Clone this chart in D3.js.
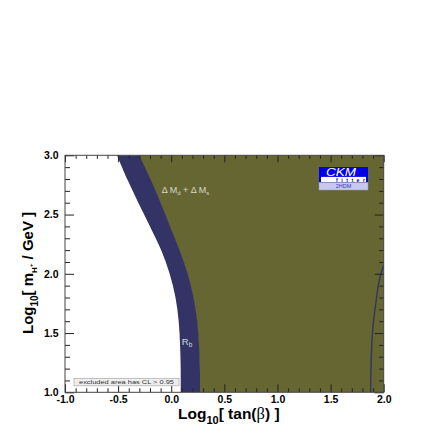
<!DOCTYPE html>
<html>
<head>
<meta charset="utf-8">
<script src="https://cdn.jsdelivr.net/npm/d3@7"></script>
<style>
  html, body { margin: 0; padding: 0; background: #fff; }
  svg { display: block; font-family: "Liberation Sans", Arial, Helvetica, sans-serif; }
</style>
</head>
<body>
<svg id="chart" width="436" height="436"></svg>
<script>
// ---- data ----
const xDomain = [-1.0, 2.0];
const yDomain = [1.0, 3.0];
const xMajorTicks = [-1.0, -0.5, 0.0, 0.5, 1.0, 1.5, 2.0];
const yMajorTicks = [1.0, 1.5, 2.0, 2.5, 3.0];
const xTickLabels = ["-1.0", "-0.5", "0.0", "0.5", "1.0", "1.5", "2.0"];
const yTickLabels = ["1.0", "1.5", "2.0", "2.5", "3.0"];
// R_b excluded band: log10(mH+) vs left/right edges in log10(tan beta)
const bandY     = [1.0,   1.2,   1.4,   1.6,   1.8,   2.0,   2.2,   2.4,   2.6,   2.8,   3.0];
const bandLeft  = [0.090, 0.089, 0.083, 0.070, 0.040, -0.015, -0.095, -0.200, -0.310, -0.415, -0.510];
const bandRight = [0.272, 0.270, 0.262, 0.245, 0.210, 0.155, 0.078, -0.010, -0.100, -0.195, -0.300];
// thin contour at large tan(beta)
const lineY = [1.0,   1.25,  1.526, 1.78,  1.948, 2.074];
const lineX = [1.877, 1.882, 1.896, 1.930, 1.959, 2.000];

const colBand = "#333366";
const colOlive = "#666633";

const svg = d3.select("#chart");
const L = 65, R = 383.7, T = 155.3, B = 392.3;
const x = d3.scaleLinear().domain(xDomain).range([L, R]);
const y = d3.scaleLinear().domain(yDomain).range([B, T]);

svg.append("defs").append("clipPath").attr("id", "plotclip")
  .append("rect").attr("x", L).attr("y", T).attr("width", R - L).attr("height", B - T);

const plot = svg.append("g").attr("clip-path", "url(#plotclip)");
plot.append("rect").attr("x", L).attr("y", T).attr("width", R - L).attr("height", B - T).attr("fill", "#fff");

const band = bandY.map((v, i) => ({ y: v, l: bandLeft[i], r: bandRight[i] }));

// olive region (Delta M_d + Delta M_s excluded)
plot.append("path")
  .attr("fill", colOlive)
  .attr("d", d3.area().curve(d3.curveCatmullRom)
    .y(d => y(d.y)).x0(d => x(d.r) - 0.5).x1(() => R + 2)(band));
// R_b band
plot.append("path")
  .attr("fill", colBand)
  .attr("d", d3.area().curve(d3.curveCatmullRom)
    .y(d => y(d.y)).x0(d => x(d.l)).x1(d => x(d.r))(band));

// thin contour
const lineData = lineY.map((v, i) => ({ y: v, x: lineX[i] }));
plot.append("path")
  .attr("fill", "none").attr("stroke", colBand).attr("stroke-width", 1.4)
  .attr("d", d3.line().curve(d3.curveCatmullRom).x(d => x(d.x)).y(d => y(d.y))(lineData));

// region labels
const t1 = svg.append("text").attr("x", x(-0.09)).attr("y", y(2.68)).attr("fill", "#d8d8c8")
  .attr("font-size", 9);
t1.append("tspan").text("Δ M");
t1.append("tspan").attr("font-size", 6).attr("dy", 2).text("d");
t1.append("tspan").attr("dy", -2).text(" + Δ M");
t1.append("tspan").attr("font-size", 6).attr("dy", 2).text("s");

const t2 = svg.append("text").attr("x", x(0.1)).attr("y", y(1.4)).attr("fill", "#d8d8e0")
  .attr("font-size", 9.5);
t2.append("tspan").text("R");
t2.append("tspan").attr("font-size", 6.5).attr("dy", 2).text("b");

// axes: ticks inward on all four sides
const xMinor = d3.range(-10, 21).map(i => i / 10).filter(v => !xMajorTicks.some(m => Math.abs(m - v) < 1e-9));
const yMinor = d3.range(10, 31).map(i => i / 10).filter(v => !yMajorTicks.some(m => Math.abs(m - v) < 1e-9));

function styleAxis(g) {
  g.select(".domain").remove();
  g.selectAll(".tick line").attr("stroke", "#222").attr("stroke-width", 1);
}
svg.append("g").attr("transform", `translate(0,${B})`)
  .call(d3.axisBottom(x).tickValues(xMajorTicks).tickSize(-8).tickPadding(3)
    .tickFormat((d, i) => xTickLabels[i]))
  .call(styleAxis)
  .call(g => g.selectAll("text").attr("font-size", 10.5).attr("font-weight", "bold")
    .attr("fill", "#000").attr("font-family", "Liberation Sans, Arial, sans-serif"));
svg.append("g").attr("transform", `translate(0,${B})`)
  .call(d3.axisBottom(x).tickValues(xMinor).tickSize(-4).tickFormat("")).call(styleAxis);
svg.append("g").attr("transform", `translate(0,${T})`)
  .call(d3.axisTop(x).tickValues(xMajorTicks).tickSize(-7).tickFormat("")).call(styleAxis);
svg.append("g").attr("transform", `translate(0,${T})`)
  .call(d3.axisTop(x).tickValues(xMinor).tickSize(-3.5).tickFormat("")).call(styleAxis);

svg.append("g").attr("transform", `translate(${L},0)`)
  .call(d3.axisLeft(y).tickValues(yMajorTicks).tickSize(-9).tickPadding(6.5)
    .tickFormat((d, i) => yTickLabels[i]))
  .call(styleAxis)
  .call(g => g.selectAll("text").attr("font-size", 10.5).attr("font-weight", "bold")
    .attr("fill", "#000").attr("font-family", "Liberation Sans, Arial, sans-serif"));
svg.append("g").attr("transform", `translate(${L},0)`)
  .call(d3.axisLeft(y).tickValues(yMinor).tickSize(-5).tickFormat("")).call(styleAxis);
svg.append("g").attr("transform", `translate(${R},0)`)
  .call(d3.axisRight(y).tickValues(yMajorTicks).tickSize(-9).tickFormat("")).call(styleAxis);
svg.append("g").attr("transform", `translate(${R},0)`)
  .call(d3.axisRight(y).tickValues(yMinor).tickSize(-4.5).tickFormat("")).call(styleAxis);

// frame
svg.append("rect").attr("x", L).attr("y", T).attr("width", R - L).attr("height", B - T)
  .attr("fill", "none").attr("stroke", "#444").attr("stroke-width", 1);

// legend box
svg.append("rect").attr("x", 74).attr("y", 378.5).attr("width", 105).attr("height", 7.3)
  .attr("fill", "#eeeeee").attr("stroke", "#aaaaaa").attr("stroke-width", 0.7);
svg.append("text").attr("x", 79).attr("y", 384.3).attr("font-size", 6).attr("fill", "#333")
  .attr("textLength", 95).attr("lengthAdjust", "spacingAndGlyphs")
  .text("excluded area has CL > 0.95");

// CKMfitter logo
const logo = svg.append("g");
logo.append("rect").attr("x", 319).attr("y", 167).attr("width", 49).attr("height", 15.5).attr("fill", "#0000e8");
logo.append("rect").attr("x", 321).attr("y", 176.9).attr("width", 45).attr("height", 5.1).attr("fill", "#fff");
logo.append("rect").attr("x", 319).attr("y", 182.5).attr("width", 49).attr("height", 7.5)
  .attr("fill", "#c8c8ee").attr("stroke", "#9999bb").attr("stroke-width", 0.5);
logo.append("text").attr("x", 326).attr("y", 176.2).attr("fill", "#fff").attr("font-size", 11)
  .attr("font-style", "italic").attr("textLength", 30).attr("lengthAdjust", "spacingAndGlyphs").text("CKM");
logo.append("text").attr("x", 336).attr("y", 181.7).attr("fill", "#0000e8").attr("font-size", 5.2)
  .attr("font-weight", "bold").attr("textLength", 29).attr("lengthAdjust", "spacing").text("fitter");
logo.append("text").attr("x", 343.5).attr("y", 188.3).attr("fill", "#3333cc").attr("font-size", 5.5)
  .attr("text-anchor", "middle").text("2HDM");

// axis titles
const xt = svg.append("text").attr("x", 178).attr("y", 419).attr("font-size", 15.5)
  .attr("font-weight", "bold").attr("fill", "#000");
xt.append("tspan").text("Log");
xt.append("tspan").attr("font-size", 11).attr("dy", 5).text("10");
xt.append("tspan").attr("dy", -5).text("[ tan(");
xt.append("tspan").attr("font-family", "Liberation Serif, Times New Roman, serif").attr("font-weight", "normal").attr("font-size", 16.5).text("β");
xt.append("tspan").text(") ]");

const yt = svg.append("text").attr("transform", "translate(33,334) rotate(-90)")
  .attr("font-size", 15).attr("font-weight", "bold").attr("fill", "#000");
yt.append("tspan").text("Log");
yt.append("tspan").attr("font-size", 10).attr("dy", 5).text("10");
yt.append("tspan").attr("dy", -5).text("[ m");
yt.append("tspan").attr("font-size", 8).attr("dy", 4).text("H");
yt.append("tspan").attr("font-size", 6).attr("dy", -4).text("+");
yt.append("tspan").attr("dy", 0).text(" / GeV ]");
</script>
</body>
</html>
